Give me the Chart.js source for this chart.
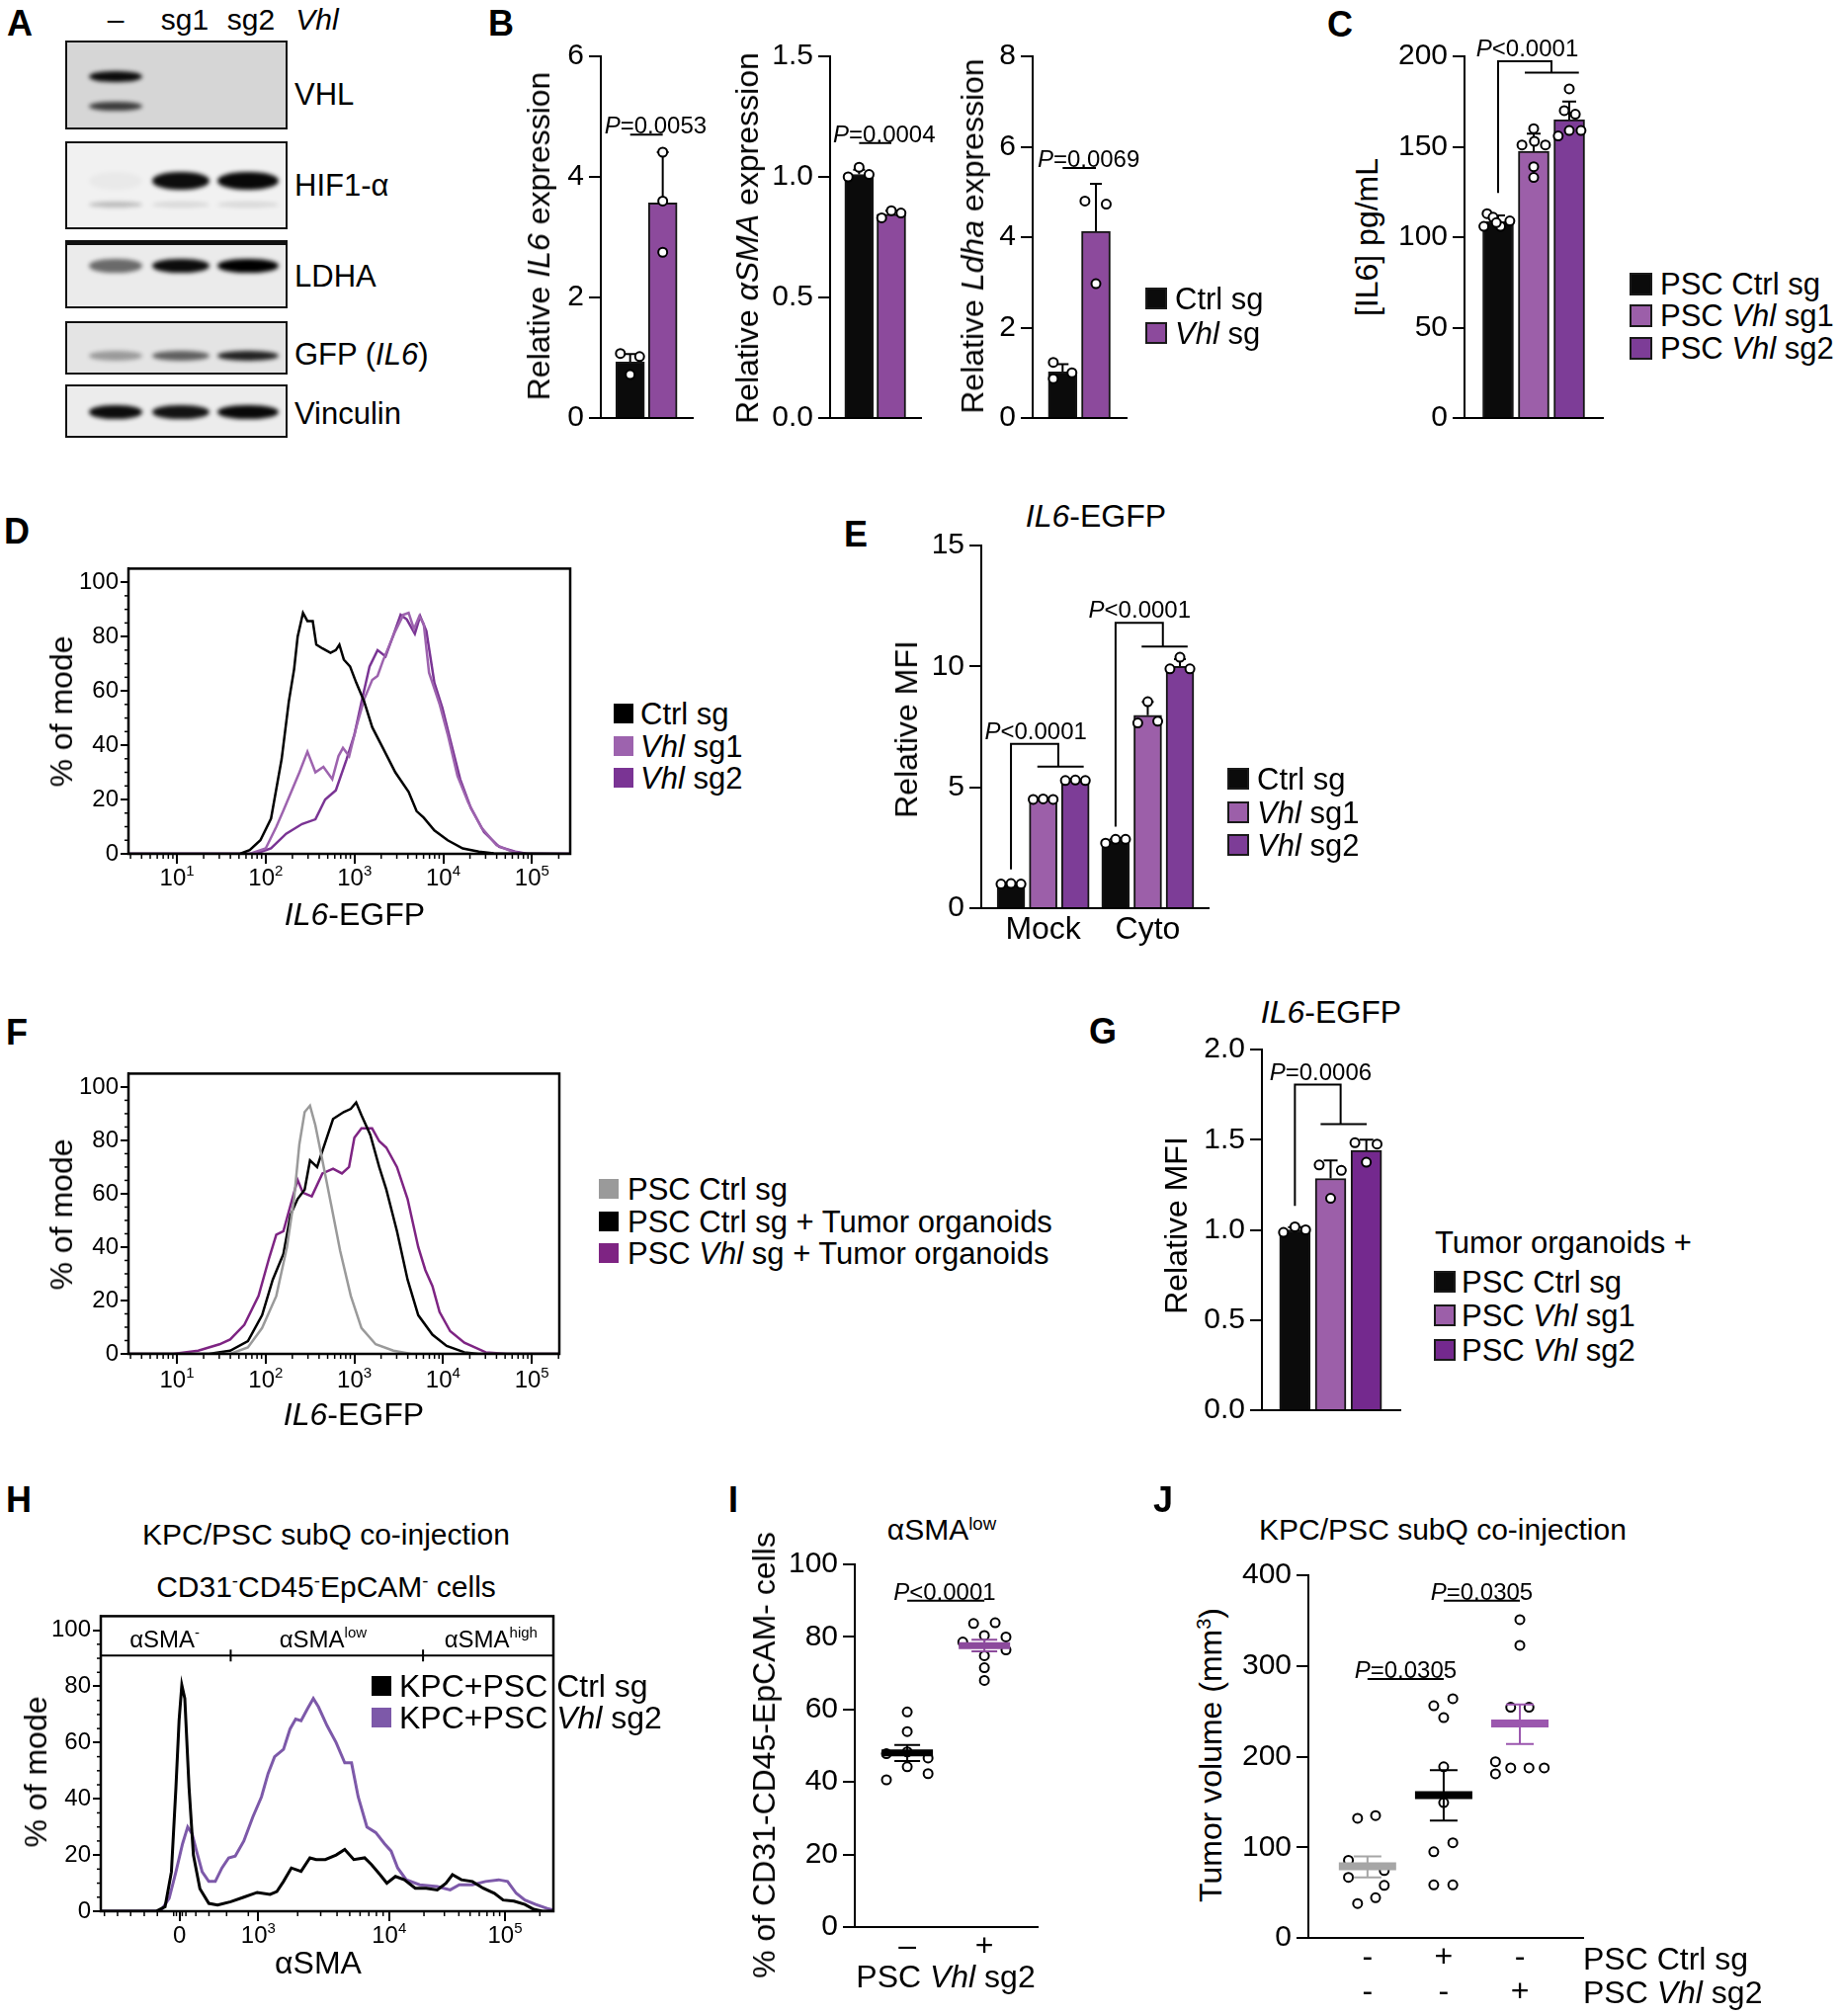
<!DOCTYPE html>
<html>
<head>
<meta charset="utf-8">
<script src="https://cdn.jsdelivr.net/npm/chart.js@4.4.1/dist/chart.umd.min.js"></script>
<style>
html,body{margin:0;padding:0;background:#fff;}
#fig{position:relative;width:1864px;height:2040px;overflow:hidden;background:#fff;color:#000;font-family:"Liberation Sans",Arial,Helvetica,sans-serif;}
#fig canvas{position:absolute;}
.t{position:absolute;white-space:nowrap;line-height:1;}
.sw{position:absolute;box-sizing:border-box;}
.blot{position:absolute;box-sizing:border-box;border:2.5px solid #111;overflow:hidden;}
.band{position:absolute;border-radius:45%/50%;filter:blur(2px);}
sup{font-size:62%;vertical-align:0.55em;line-height:0;}
</style>
</head>
<body>
<div id="fig"></div>
<script>
// ======================= DATA =======================
// Panel A – western blot, band darkness per lane (–, sg1, sg2)
const A_LANES = ['–', 'sg1', 'sg2'];
const A_TARGETS = ['VHL', 'HIF1-α', 'LDHA', 'GFP (<i>IL6</i>)', 'Vinculin'];
const A_VHL_UPPER = [0.95, 0.0, 0.0];
const A_VHL_LOWER = [0.72, 0.0, 0.0];
const A_HIF = [0.03, 0.95, 0.97];
const A_HIF_LOWER = [0.22, 0.10, 0.10];
const A_LDHA = [0.55, 0.95, 1.0];
const A_GFP = [0.32, 0.58, 0.85];
const A_VINCULIN = [0.95, 0.92, 0.97];

// Panel B – qPCR
const B_GROUPS = ['Ctrl sg', 'Vhl sg'];
const B_IL6_MEAN = [0.93, 3.57];
const B_IL6_SD = [0.13, 0.84];
const B_IL6_DOTS = [[1.07, 0.72, 1.02], [4.41, 3.60, 2.75]];
const B_ASMA_MEAN = [1.01, 0.845];
const B_ASMA_SD = [0.02, 0.015];
const B_ASMA_DOTS = [[1.00, 1.04, 1.01], [0.83, 0.86, 0.85]];
const B_LDHA_MEAN = [1.02, 4.13];
const B_LDHA_SD = [0.17, 1.05];
const B_LDHA_DOTS = [[1.23, 0.87, 1.00], [4.80, 4.73, 2.97]];
const B_PVALUES = ['=0.0053', '=0.0004', '=0.0069'];
const B_IL6_TICKS = [0, 2, 4, 6];
const B_ASMA_TICKS = [0, 0.5, 1.0, 1.5];
const B_LDHA_TICKS = [0, 2, 4, 6, 8];

// Panel C – IL6 ELISA
const C_GROUPS = ['PSC Ctrl sg', 'PSC Vhl sg1', 'PSC Vhl sg2'];
const C_MEAN = [108.5, 147.5, 165.0];
const C_SD = [3.5, 9.8, 10.0];
const C_DOTS = [[113, 111, 106, 106, 109, 108], [160, 151, 153, 151, 139, 133], [182, 170, 168, 156, 159, 159]];
const C_TICKS = [0, 50, 100, 150, 200];
const C_PVALUE = '<0.0001';

// Panel D – IL6-EGFP histograms (x = log10 intensity, y = % of mode)
const D_CTRL_X = [0.4, 1.71, 1.82, 1.94, 2.06, 2.18, 2.26, 2.32, 2.36, 2.42, 2.47, 2.53, 2.57, 2.64, 2.73, 2.79, 2.83, 2.88, 2.95, 3.02, 3.11, 3.20, 3.32, 3.46, 3.61, 3.70, 3.78, 3.90, 4.05, 4.22, 4.40, 4.57, 5.5];
const D_CTRL_Y = [0, 0, 1.4, 5, 13, 35, 56, 68, 80, 88.7, 85.7, 85.7, 77, 75.6, 74, 75, 77, 71.5, 69, 63, 56, 46.6, 39, 30, 22.8, 15.7, 13.3, 8.6, 5, 2, 0.8, 0.2, 0];
const D_SG1_X = [0.4, 1.82, 2.0, 2.12, 2.2, 2.29, 2.38, 2.47, 2.56, 2.65, 2.75, 2.82, 2.87, 2.94, 3.02, 3.11, 3.2, 3.26, 3.32, 3.37, 3.46, 3.55, 3.61, 3.67, 3.73, 3.78, 3.84, 3.96, 4.05, 4.16, 4.28, 4.43, 4.6, 4.78, 4.92, 5.5];
const D_SG1_Y = [0, 0, 2, 10, 16, 23, 30, 37.6, 30, 32, 27.5, 36, 39, 36, 46.6, 57, 64, 65.5, 71, 75, 82, 88, 88.7, 82.8, 87.5, 84.6, 66.7, 55, 44, 28.7, 19, 9.7, 3.2, 0.8, 0, 0];
const D_SG2_X = [0.4, 1.88, 2.06, 2.23, 2.41, 2.56, 2.67, 2.79, 2.91, 3.0, 3.08, 3.17, 3.26, 3.35, 3.43, 3.52, 3.59, 3.68, 3.74, 3.81, 3.9, 3.99, 4.08, 4.19, 4.31, 4.46, 4.63, 4.81, 4.95, 5.5];
const D_SG2_Y = [0, 0, 2, 7.4, 11, 12.7, 20, 23.4, 34.7, 44, 56, 69, 75, 72.7, 79.8, 88, 86.3, 81, 87.5, 82, 63, 53.7, 41.8, 27.5, 16.9, 8, 2.6, 0.8, 0, 0];
const LOG_DECADES = [1, 2, 3, 4, 5];
const PCT_TICKS = [0, 20, 40, 60, 80, 100];

// Panel E – relative MFI
const E_CONDITIONS = ['Mock', 'Cyto'];
const E_SERIES = ['Ctrl sg', 'Vhl sg1', 'Vhl sg2'];
const E_CTRL_MEAN = [1.0, 2.77];
const E_SG1_MEAN = [4.5, 7.98];
const E_SG2_MEAN = [5.28, 10.0];
const E_CTRL_SD = [0.02, 0.08];
const E_SG1_SD = [0.02, 0.55];
const E_SG2_SD = [0.02, 0.3];
const E_CTRL_DOTS = [[1.0, 1.02, 1.0], [2.69, 2.85, 2.85]];
const E_SG1_DOTS = [[4.5, 4.52, 4.5], [7.66, 8.54, 7.73]];
const E_SG2_DOTS = [[5.28, 5.3, 5.28], [9.9, 10.38, 9.9]];
const E_TICKS = [0, 5, 10, 15];
const E_PVALUES = ['<0.0001', '<0.0001'];

// Panel F – IL6-EGFP histograms with tumor organoids
const F_CTRL_X = [0.4, 1.6, 1.8, 1.96, 2.12, 2.24, 2.32, 2.38, 2.44, 2.5, 2.56, 2.64, 2.74, 2.84, 2.96, 3.08, 3.24, 3.44, 3.64, 5.4];
const F_CTRL_Y = [0, 0, 2.4, 9.7, 21.7, 40, 58, 78.5, 90.6, 93, 85.7, 72.5, 55.6, 38.6, 21.7, 9.7, 3.6, 1.2, 0, 0];
const F_CTRLTO_X = [0.4, 1.36, 1.6, 1.8, 1.96, 2.08, 2.2, 2.28, 2.36, 2.44, 2.5, 2.58, 2.64, 2.76, 2.88, 2.96, 3.02, 3.08, 3.18, 3.28, 3.36, 3.48, 3.6, 3.72, 3.88, 4.04, 4.24, 4.4, 5.4];
const F_CTRLTO_Y = [0, 0, 1.2, 4.8, 14.5, 27.8, 37.4, 52, 58, 61.6, 72.5, 70, 76, 88, 90.6, 91.8, 94.2, 89.4, 82, 70, 61.6, 46, 27.8, 14.5, 7.2, 3, 0.6, 0, 0];
const F_VHLTO_X = [0.4, 0.96, 1.24, 1.48, 1.6, 1.76, 1.92, 2.04, 2.12, 2.2, 2.28, 2.36, 2.42, 2.52, 2.64, 2.76, 2.86, 2.94, 3.0, 3.08, 3.2, 3.28, 3.36, 3.48, 3.6, 3.72, 3.8, 3.88, 3.96, 4.08, 4.24, 4.48, 4.72, 5.4];
const F_VHLTO_Y = [0, 0, 1.2, 3.6, 5.4, 10.9, 21.7, 36, 44.7, 46, 55.6, 65.2, 60.4, 59, 67.6, 69.4, 67.6, 70, 81, 84.5, 84.5, 79.7, 77.3, 70, 58, 40, 31.4, 25.4, 15.7, 8.5, 4.2, 0.6, 0, 0];

// Panel G – relative MFI with tumor organoids
const G_GROUPS = ['PSC Ctrl sg', 'PSC Vhl sg1', 'PSC Vhl sg2'];
const G_MEAN = [1.0, 1.285, 1.44];
const G_SD = [0.015, 0.1, 0.06];
const G_DOTS = [[0.986, 1.017, 1.0], [1.36, 1.175, 1.33], [1.483, 1.375, 1.476]];
const G_TICKS = [0, 0.5, 1.0, 1.5, 2.0];
const G_PVALUE = '=0.0006';

// Panel H – αSMA histograms (x = biexponential display channel 0–1000)
const H_CTRL_X = [1, 122, 142, 156, 166, 173, 179, 185.6, 195, 204.6, 219, 238.7, 258, 287, 316, 345.6, 374, 389, 403.7, 421, 442.5, 462, 476, 496, 520, 539, 559, 583, 598, 617, 632, 651, 670.6, 694.8, 719, 743.4, 762.6, 777, 796.7, 821, 845, 869.6, 889, 913, 937, 956.5, 976, 1000];
const H_CTRL_Y = [0, 0, 1.6, 14, 44, 68, 80.5, 75.7, 44, 20, 8, 2.8, 2.2, 3.4, 5, 6.7, 6, 7, 10.6, 15.4, 14.2, 19, 18.4, 18.4, 20, 22, 18.4, 19, 16.6, 13, 10, 12.4, 11.2, 8.2, 8.2, 7.6, 10, 13, 11.2, 10.6, 8.2, 6.4, 4, 3.6, 2.4, 0.7, 0, 0];
const H_VHL_X = [1, 132, 151, 166, 180.6, 192, 201.9, 211.5, 224, 238.6, 253, 267.7, 282.6, 297, 316, 335.8, 355, 369.6, 384, 403.7, 418, 430.6, 442.5, 456.5, 469.6, 481, 500, 520, 539, 554, 568.7, 588, 607.6, 627, 641.5, 656, 675, 704.6, 743.4, 772, 792, 821, 850, 879, 898.7, 917.8, 937, 961, 986, 1000];
const H_VHL_Y = [0, 0, 4.6, 14, 24, 30, 27.5, 21.4, 14, 10.6, 10.6, 15.4, 19, 19.6, 25, 33.5, 40.7, 49, 55, 57.6, 64.8, 68.4, 67.8, 72, 75.7, 72.7, 66, 60, 52.8, 52.8, 40.7, 30, 28, 24, 21.4, 15.4, 11.2, 9.4, 8.8, 7.6, 9.4, 9.4, 10.6, 11.2, 10.6, 6.4, 4, 2.4, 1, 0.4];
const H_XTICK_CH = [174, 348, 637, 893];
const H_XTICK_LABELS = [['0', ''], ['10', '3'], ['10', '4'], ['10', '5']];
const H_GATES = ['-', 'low', 'high'];
const H_GATE_BOUNDS = [287, 712];

// Panel I – % αSMA-low
const I_GROUPS = ['–', '+'];
const I_NEG = [59.3, 53.9, 47.8, 48.3, 46.6, 44.2, 42.3, 40.6];
const I_POS = [83.7, 83.9, 80.4, 80.0, 78.6, 76.4, 74.8, 71.5, 68.0];
const I_MEAN = [48.0, 77.6];
const I_SEM_LO = [45.8, 76.0];
const I_SEM_HI = [50.2, 79.2];
const I_TICKS = [0, 20, 40, 60, 80, 100];
const I_PVALUE = '<0.0001';

// Panel J – tumor volume
const J_CTRL_ROW = ['-', '+', '-'];
const J_VHL_ROW = ['-', '-', '+'];
const J_NONE = [132, 135, 85.6, 66.8, 74.3, 58, 44.3, 37.9];
const J_CTRL = [256, 263.8, 243, 188.7, 149.3, 95, 105, 58.5, 58.5];
const J_VHL = [351, 322.7, 254.4, 254.4, 194.4, 181, 187.6, 187.6, 187.6];
const J_MEAN = [79, 157.6, 236.4];
const J_SEM_LO = [66.8, 129.5, 214];
const J_SEM_HI = [90, 185, 257.4];
const J_TICKS = [0, 100, 200, 300, 400];
const J_PVALUES = ['=0.0305', '=0.0305'];

// ======================= STYLE / LAYOUT =======================
const FONT = '"Liberation Sans", Arial, Helvetica, sans-serif';
const BLACK = '#0b0b0b';
const PURPLE = '#8c4a9c';
const SG1 = '#9c5fa9';
const SG2 = '#7d3d97';
const SG2G = '#74298e';
const D_SG1C = '#9d63ae', D_SG2C = '#7a3494';
const F_GRAY = '#9a9a9a', F_PURPLE = '#7e2483';
const H_PURPLE = '#7d59a9';
const J_GRAY = '#a6a6a6', J_PURPLE = '#9b57ae';

// jitter of individual dots inside a bar (x units) – layout only
const B_IL6_JIT = [[-0.3, 0, 0.29], [0, 0, 0]];
const B_ASMA_JIT = [[-0.34, 0, 0.31], [-0.3, 0, 0.3]];
const B_LDHA_JIT = [[-0.28, -0.28, 0.28], [-0.33, 0.31, 0]];
const C_JIT = [[-0.31, -0.14, -0.4, 0.07, 0.33, -0.05], [0, -0.33, 0.02, 0.33, 0, 0], [0, -0.14, 0.17, -0.31, 0, 0.33]];
const E_JIT3 = [-0.31, 0, 0.31];
const E_GROUP_X = [0, 3.25];
const G_JIT = [-0.32, 0, 0.3];
const I_NEG_JIT = [0, 0, -0.27, 0, 0.27, 0, 0.27, -0.27];
const I_POS_JIT = [-0.14, 0.14, 0, 0.28, -0.28, 0.28, 0, 0, 0];
const J_NONE_JIT = [-0.13, 0.106, -0.25, -0.25, 0.22, 0.22, 0.106, -0.13];
const J_CTRL_JIT = [-0.13, 0.12, 0, 0, 0, -0.13, 0.12, -0.13, 0.12];
const J_VHL_JIT = [0, 0, -0.12, 0.12, -0.32, -0.32, -0.12, 0.12, 0.32];

Chart.defaults.font.family = FONT;
Chart.defaults.color = '#000';

const fig = document.getElementById('fig');

function addText(html, x, y, o) {
  o = o || {};
  const d = document.createElement('div');
  d.className = 't';
  d.innerHTML = html;
  d.style.left = x + 'px';
  d.style.top = y + 'px';
  d.style.fontSize = (o.size || 31) + 'px';
  if (o.bold) d.style.fontWeight = 'bold';
  let tr = 'translate(-50%,-50%)';
  if (o.rot) tr = 'translate(-50%,-50%) rotate(-90deg)';
  else if (o.align === 'left') tr = 'translateY(-50%)';
  d.style.transform = tr;
  fig.appendChild(d);
  return d;
}
function addSwatch(x, yc, size, color, border) {
  const d = document.createElement('div');
  d.className = 'sw';
  d.style.left = x + 'px';
  d.style.top = (yc - size / 2) + 'px';
  d.style.width = size + 'px';
  d.style.height = size + 'px';
  d.style.background = color;
  if (border) d.style.border = '2px solid #1a1a1a';
  fig.appendChild(d);
}
function legend(items, x, ys, size, tx, fs, border) {
  items.forEach((it, i) => {
    addSwatch(x, ys[i], size, it.color, border);
    addText(it.label, tx, ys[i], {size: fs, align: 'left'});
  });
}
function mkCanvas(area, m) {
  const c = document.createElement('canvas');
  const w = Math.round(area.r - area.l + m.l + m.r);
  const h = Math.round(area.b - area.t + m.t + m.b);
  c.width = w; c.height = h;
  c.style.left = (area.l - m.l) + 'px';
  c.style.top = (area.t - m.t) + 'px';
  c.style.width = w + 'px';
  c.style.height = h + 'px';
  fig.appendChild(c);
  return c;
}
function drawRich(ctx, segs, cx, cy, size, align) {
  ctx.save();
  ctx.fillStyle = '#000';
  ctx.textBaseline = 'alphabetic';
  ctx.textAlign = 'left';
  const f = s => (s.it ? 'italic ' : '') + (s.sup ? Math.round(size * 0.62) : size) + 'px ' + FONT;
  let W = 0;
  const ws = segs.map(s => { ctx.font = f(s); const w = ctx.measureText(s.t).width; W += w; return w; });
  let x = align === 'left' ? cx : cx - W / 2;
  const base = cy + size * 0.36;
  segs.forEach((s, i) => { ctx.font = f(s); ctx.fillText(s.t, x, s.sup ? base - size * 0.42 : base); x += ws[i]; });
  ctx.restore();
}
function pval(ctx, rest, cx, baseline) {
  drawRich(ctx, [{t: 'P', it: true}, {t: rest}], cx, baseline - 24 * 0.36, 24);
}
function hline(ctx, x1, x2, y) {
  ctx.save(); ctx.strokeStyle = '#000'; ctx.lineWidth = 2;
  ctx.beginPath(); ctx.moveTo(x1, y); ctx.lineTo(x2, y); ctx.stroke(); ctx.restore();
}
function comb(ctx, X, Y, c) {
  ctx.save(); ctx.strokeStyle = '#000'; ctx.lineWidth = 2;
  ctx.beginPath();
  ctx.moveTo(X(c.xL), Y(c.yL)); ctx.lineTo(X(c.xL), Y(c.yTop)); ctx.lineTo(X(c.xM), Y(c.yTop)); ctx.lineTo(X(c.xM), Y(c.yM));
  ctx.moveTo(X(c.xA), Y(c.yM)); ctx.lineTo(X(c.xB), Y(c.yM));
  ctx.stroke(); ctx.restore();
}

let pid = 0;
function prismChart(s) {
  const cv = mkCanvas(s.area, s.margin);
  const ds = [];
  if (s.bars) {
    ds.push({
      type: 'bar',
      data: s.bars.map(b => ({x: b.x, y: b.mean})),
      backgroundColor: s.bars.map(b => b.color),
      borderColor: '#151515',
      borderWidth: 2,
      barThickness: s.barWidth,
      order: 3
    });
  }
  (s.dots || []).forEach(g => ds.push({
    type: 'scatter',
    data: g.values.map((v, i) => ({x: g.x + g.jitter[i], y: v})),
    pointRadius: 4.5, pointBorderWidth: 2,
    pointBackgroundColor: '#fff', pointBorderColor: '#000',
    order: 1
  }));
  const plugin = {
    id: 'prism' + (pid++),
    beforeDatasetsDraw(chart) {
      const ctx = chart.ctx, X = v => chart.scales.x.getPixelForValue(v), Y = v => chart.scales.y.getPixelForValue(v);
      ctx.save(); ctx.strokeStyle = '#000'; ctx.lineWidth = 2;
      (s.bars || []).forEach(b => {
        if (!b.sd) return;
        const x = X(b.x), y1 = Y(b.mean), y2 = Y(b.mean + b.sd), cw = s.capW || 12;
        ctx.beginPath(); ctx.moveTo(x, y1); ctx.lineTo(x, y2);
        ctx.moveTo(x - cw / 2, y2); ctx.lineTo(x + cw / 2, y2); ctx.stroke();
      });
      ctx.restore();
    },
    afterDatasetsDraw(chart) {
      const ctx = chart.ctx, X = v => chart.scales.x.getPixelForValue(v), Y = v => chart.scales.y.getPixelForValue(v);
      (s.meanSem || []).forEach(m => {
        ctx.save(); ctx.strokeStyle = m.color; ctx.lineWidth = 2;
        const x = X(m.x), cw = s.semW, mw = s.meanW;
        ctx.beginPath();
        ctx.moveTo(x, Y(m.lo)); ctx.lineTo(x, Y(m.hi));
        ctx.moveTo(x - cw / 2, Y(m.lo)); ctx.lineTo(x + cw / 2, Y(m.lo));
        ctx.moveTo(x - cw / 2, Y(m.hi)); ctx.lineTo(x + cw / 2, Y(m.hi));
        ctx.stroke();
        ctx.lineWidth = s.meanThick; ctx.beginPath();
        ctx.moveTo(x - mw / 2, Y(m.mean)); ctx.lineTo(x + mw / 2, Y(m.mean)); ctx.stroke();
        ctx.restore();
      });
      if (s.ann) s.ann(ctx, X, Y);
    }
  };
  new Chart(cv, {
    type: 'bar',
    data: {datasets: ds},
    options: {
      responsive: false, animation: false, devicePixelRatio: 1, events: [],
      layout: {padding: {top: s.margin.t, right: s.margin.r, left: 0, bottom: 0}},
      plugins: {legend: {display: false}, tooltip: {enabled: false}},
      scales: {
        x: {
          type: 'linear', min: s.xmin, max: s.xmax, offset: false,
          afterBuildTicks: sc => { sc.ticks = (s.xlabels || []).map(l => ({value: l.x})); },
          afterFit: sc => { sc.height = s.margin.b; },
          grid: {display: false, drawTicks: false, tickLength: 0, offset: false},
          border: {display: true, color: '#000', width: 2},
          ticks: {display: !!s.xlabels, autoSkip: false, maxRotation: 0, minRotation: 0, padding: s.xpad || 4,
                  font: {size: s.xfont || 31, lineHeight: s.xlh || 1.2}, color: '#000',
                  callback: (v, i) => s.xlabels ? s.xlabels[i].label : ''}
        },
        y: {
          type: 'linear', min: s.ymin, max: s.ymax,
          afterBuildTicks: sc => { sc.ticks = s.yticks.map(v => ({value: v})); },
          afterFit: sc => { sc.width = s.margin.l; },
          grid: {display: true, drawOnChartArea: false, drawTicks: true, tickLength: 12, color: '#000', lineWidth: 2},
          border: {display: true, color: '#000', width: 2},
          ticks: {font: {size: 30}, padding: 5, color: '#000', callback: v => s.yfmt ? s.yfmt(v) : String(v)}
        }
      }
    },
    plugins: [plugin]
  });
}

function flowChart(s) {
  const cv = mkCanvas(s.area, s.margin);
  const ds = s.series.map(se => ({
    type: 'scatter', showLine: true,
    data: se.x.map((v, i) => ({x: v, y: se.y[i]})),
    borderColor: se.color, borderWidth: se.w || 2.5, pointRadius: 0, tension: 0, fill: false
  }));
  const plugin = {
    id: 'flow' + (pid++),
    afterDraw(chart) {
      const ctx = chart.ctx, a = chart.chartArea, xs = chart.scales.x, ys = chart.scales.y;
      ctx.save();
      ctx.strokeStyle = '#000'; ctx.lineWidth = 2.5;
      ctx.strokeRect(a.left, a.top, a.right - a.left, a.bottom - a.top);
      ctx.lineWidth = 1.5;
      s.yMinor.forEach(v => { const y = ys.getPixelForValue(v); ctx.beginPath(); ctx.moveTo(a.left - 4, y); ctx.lineTo(a.left, y); ctx.stroke(); });
      s.xMinor.forEach(v => { if (v <= xs.min || v >= xs.max) return; const x = xs.getPixelForValue(v); ctx.beginPath(); ctx.moveTo(x, a.bottom); ctx.lineTo(x, a.bottom + 5); ctx.stroke(); });
      s.xLabels.forEach(l => drawRich(ctx, l.segs, xs.getPixelForValue(l.v), a.bottom + s.xLabelDy, 24));
      if (s.extra) s.extra(ctx, chart);
      ctx.restore();
    }
  };
  new Chart(cv, {
    type: 'scatter',
    data: {datasets: ds},
    options: {
      responsive: false, animation: false, devicePixelRatio: 1, events: [],
      layout: {padding: {top: s.margin.t, right: s.margin.r, left: 0, bottom: 0}},
      plugins: {legend: {display: false}, tooltip: {enabled: false}},
      scales: {
        x: {
          type: 'linear', min: s.xmin, max: s.xmax,
          afterBuildTicks: sc => { sc.ticks = s.xMajor.map(v => ({value: v})); },
          afterFit: sc => { sc.height = s.margin.b; },
          grid: {display: true, drawOnChartArea: false, drawTicks: true, tickLength: 10, color: '#000', lineWidth: 2},
          border: {display: true, color: '#000', width: 2},
          ticks: {display: false}
        },
        y: {
          type: 'linear', min: 0, max: 105,
          afterBuildTicks: sc => { sc.ticks = PCT_TICKS.map(v => ({value: v})); },
          afterFit: sc => { sc.width = s.margin.l; },
          grid: {display: true, drawOnChartArea: false, drawTicks: true, tickLength: 8, color: '#000', lineWidth: 2},
          border: {display: true, color: '#000', width: 2},
          ticks: {font: {size: 24}, padding: 2, color: '#000'}
        }
      }
    },
    plugins: [plugin]
  });
}

// ---------- helpers for ticks ----------
const SUP = {1: '1', 2: '2', 3: '3', 4: '4', 5: '5'};
function logMinor(maxDec) {
  const out = [];
  for (let n = 0; n <= maxDec; n++) for (let k = 2; k <= 9; k++) out.push(n + Math.log10(k));
  return out;
}
const PCT_MINOR = [];
for (let v = 5; v < 105; v += 5) if (v % 20) PCT_MINOR.push(v);
const LOG_LABELS = LOG_DECADES.map(d => ({v: d, segs: [{t: '10'}, {t: SUP[d], sup: true}]}));

// ======================= PANEL A =======================
addText('A', 20, 24, {size: 36, bold: true});
const A_LANE_X = [117, 183, 251];
const A_LANE_W = [54, 58, 62];
A_LANES.forEach((l, i) => addText(l, [117, 187, 254][i], 20, {size: 30}));
addText('<i>Vhl</i>', 321, 20, {size: 30});
function blot(top, bottom, bg, topBorder) {
  const d = document.createElement('div');
  d.className = 'blot';
  d.style.left = '66px'; d.style.top = top + 'px';
  d.style.width = '225px'; d.style.height = (bottom - top) + 'px';
  d.style.background = bg;
  if (topBorder) d.style.borderTop = topBorder;
  fig.appendChild(d);
  return {d, top};
}
function band(b, lane, cy, h, a) {
  if (a <= 0.01) return;
  const e = document.createElement('div');
  e.className = 'band';
  const w = A_LANE_W[lane];
  e.style.left = (A_LANE_X[lane] - w / 2 - 68.5) + 'px';
  e.style.top = (cy - h / 2 - b.top - 2.5) + 'px';
  e.style.width = w + 'px'; e.style.height = h + 'px';
  e.style.background = 'rgba(0,0,0,' + a + ')';
  b.d.appendChild(e);
}
const bVHL = blot(41, 131, '#d6d6d6');
A_VHL_UPPER.forEach((a, i) => band(bVHL, i, 78, 11, a));
A_VHL_LOWER.forEach((a, i) => band(bVHL, i, 108, 9, a));
const bHIF = blot(143, 232, '#f1f1f1');
A_HIF.forEach((a, i) => band(bHIF, i, 183, 18, a));
A_HIF_LOWER.forEach((a, i) => band(bHIF, i, 207, 6, a));
const bLDHA = blot(243, 312, '#ebebeb', '5px solid #111');
A_LDHA.forEach((a, i) => band(bLDHA, i, 266, 14, a));
const bGFP = blot(325, 379, '#e4e4e4');
A_GFP.forEach((a, i) => band(bGFP, i, 360, 10, a));
const bVIN = blot(389, 443, '#ececec');
A_VINCULIN.forEach((a, i) => band(bVIN, i, 417, 14, a));
[95, 187, 279, 358, 418].forEach((y, i) => addText(A_TARGETS[i], 298, y, {size: 31, align: 'left'}));

// ======================= PANEL B =======================
addText('B', 507, 24, {size: 36, bold: true});
const B_COLORS = [BLACK, PURPLE];
const B_PLINE = [4.7, 1.14, 5.53];
function bChart(area, mean, sd, dots, jit, ticks, fmt, i) {
  prismChart({
    area, margin: {l: 75, t: 40, r: 40, b: 24},
    xmin: -0.9, xmax: 1.92, ymin: 0, ymax: ticks[ticks.length - 1], yticks: ticks, yfmt: fmt,
    barWidth: 29, capW: 12,
    bars: mean.map((m, k) => ({x: k, mean: m, sd: sd[k], color: B_COLORS[k]})),
    dots: dots.map((v, k) => ({x: k, values: v, jitter: jit[k]})),
    ann: (ctx, X, Y) => { hline(ctx, X(0), X(1), Y(B_PLINE[i])); pval(ctx, B_PVALUES[i], X(0.78), Y(B_PLINE[i]) - 1); }
  });
}
bChart({l: 608, t: 57, r: 701, b: 423}, B_IL6_MEAN, B_IL6_SD, B_IL6_DOTS, B_IL6_JIT, B_IL6_TICKS, v => String(v), 0);
bChart({l: 840, t: 57, r: 932, b: 423}, B_ASMA_MEAN, B_ASMA_SD, B_ASMA_DOTS, B_ASMA_JIT, B_ASMA_TICKS, v => v.toFixed(1), 1);
bChart({l: 1045, t: 57, r: 1140, b: 423}, B_LDHA_MEAN, B_LDHA_SD, B_LDHA_DOTS, B_LDHA_JIT, B_LDHA_TICKS, v => String(v), 2);
addText('Relative <i>IL6</i> expression', 545, 239, {size: 32, rot: true});
addText('Relative <i>αSMA</i> expression', 756, 241, {size: 32, rot: true});
addText('Relative <i>Ldha</i> expression', 984, 239, {size: 32, rot: true});
legend([{color: BLACK, label: 'Ctrl sg'}, {color: PURPLE, label: '<i>Vhl</i> sg'}], 1159, [302, 337], 22, 1189, 31, true);

// ======================= PANEL C =======================
addText('C', 1356, 25, {size: 36, bold: true});
const C_COLORS = [BLACK, SG1, SG2];
prismChart({
  area: {l: 1482, t: 57, r: 1622, b: 423}, margin: {l: 80, t: 50, r: 20, b: 24},
  xmin: -0.944, xmax: 2.944, ymin: 0, ymax: 200, yticks: C_TICKS,
  barWidth: 31, capW: 14,
  bars: C_MEAN.map((m, k) => ({x: k, mean: m, sd: C_SD[k], color: C_COLORS[k]})),
  dots: C_DOTS.map((v, k) => ({x: k, values: v, jitter: C_JIT[k]})),
  ann: (ctx, X, Y) => {
    comb(ctx, X, Y, {xL: 0, yL: 124.4, yTop: 197.3, xM: 1.5, yM: 191, xA: 0.75, xB: 2.27});
    pval(ctx, C_PVALUE, X(0.82), Y(197.3) - 5);
  }
});
addText('[IL6] pg/mL', 1383, 240, {size: 32, rot: true});
legend([{color: BLACK, label: 'PSC Ctrl sg'}, {color: SG1, label: 'PSC <i>Vhl</i> sg1'}, {color: SG2, label: 'PSC <i>Vhl</i> sg2'}], 1649, [287, 319, 352], 23, 1680, 31, true);

// ======================= PANEL D =======================
addText('D', 17, 538, {size: 36, bold: true});
flowChart({
  area: {l: 130, t: 569, r: 577, b: 864}, margin: {l: 75, t: 10, r: 12, b: 50},
  xmin: 0.454, xmax: 5.43,
  series: [
    {x: D_CTRL_X, y: D_CTRL_Y, color: '#000'},
    {x: D_SG1_X, y: D_SG1_Y, color: D_SG1C},
    {x: D_SG2_X, y: D_SG2_Y, color: D_SG2C}
  ],
  xMajor: LOG_DECADES, xMinor: logMinor(5), yMinor: PCT_MINOR,
  xLabels: LOG_LABELS, xLabelDy: 23
});
addText('% of mode', 62, 720, {size: 32, rot: true});
addText('<i>IL6</i>-EGFP', 359, 925, {size: 32});
legend([{color: '#000', label: 'Ctrl sg'}, {color: D_SG1C, label: '<i>Vhl</i> sg1'}, {color: D_SG2C, label: '<i>Vhl</i> sg2'}], 621, [722, 755, 787], 20, 648, 31, false);

// ======================= PANEL E =======================
addText('E', 866, 541, {size: 36, bold: true});
addText('<i>IL6</i>-EGFP', 1109, 522, {size: 32});
const E_COLORS = [BLACK, SG1, SG2];
const E_MEANS = [E_CTRL_MEAN, E_SG1_MEAN, E_SG2_MEAN];
const E_SDS = [E_CTRL_SD, E_SG1_SD, E_SG2_SD];
const E_DOTSETS = [E_CTRL_DOTS, E_SG1_DOTS, E_SG2_DOTS];
const eBars = [], eDots = [];
E_CONDITIONS.forEach((c, i) => E_SERIES.forEach((s, k) => {
  eBars.push({x: E_GROUP_X[i] + k, mean: E_MEANS[k][i], sd: E_SDS[k][i], color: E_COLORS[k]});
  eDots.push({x: E_GROUP_X[i] + k, values: E_DOTSETS[k][i], jitter: E_JIT3});
}));
prismChart({
  area: {l: 993, t: 552, r: 1223, b: 919}, margin: {l: 75, t: 30, r: 20, b: 50},
  xmin: -0.923, xmax: 6.14, ymin: 0, ymax: 15, yticks: E_TICKS,
  barWidth: 28, capW: 12,
  bars: eBars, dots: eDots,
  xlabels: [{x: 1, label: E_CONDITIONS[0]}, {x: 4.25, label: E_CONDITIONS[1]}], xfont: 32, xpad: 3,
  ann: (ctx, X, Y) => {
    comb(ctx, X, Y, {xL: 0, yL: 1.6, yTop: 6.8, xM: 1.47, yM: 5.85, xA: 0.82, xB: 2.26});
    pval(ctx, E_PVALUES[0], X(0.77), Y(6.8) - 5);
    comb(ctx, X, Y, {xL: 3.25, yL: 3.37, yTop: 11.8, xM: 4.72, yM: 10.82, xA: 4.06, xB: 5.49});
    pval(ctx, E_PVALUES[1], X(4.0), Y(11.8) - 5);
  }
});
addText('Relative MFI', 917, 738, {size: 32, rot: true});
legend([{color: BLACK, label: 'Ctrl sg'}, {color: SG1, label: '<i>Vhl</i> sg1'}, {color: SG2, label: '<i>Vhl</i> sg2'}], 1242, [788, 822, 855], 22, 1272, 31, true);

// ======================= PANEL F =======================
addText('F', 17, 1045, {size: 36, bold: true});
flowChart({
  area: {l: 130, t: 1080, r: 566, b: 1370}, margin: {l: 75, t: 10, r: 12, b: 50},
  xmin: 0.454, xmax: 5.31,
  series: [
    {x: F_CTRL_X, y: F_CTRL_Y, color: F_GRAY},
    {x: F_CTRLTO_X, y: F_CTRLTO_Y, color: '#000'},
    {x: F_VHLTO_X, y: F_VHLTO_Y, color: F_PURPLE}
  ],
  xMajor: LOG_DECADES, xMinor: logMinor(5), yMinor: PCT_MINOR,
  xLabels: LOG_LABELS, xLabelDy: 25
});
addText('% of mode', 62, 1229, {size: 32, rot: true});
addText('<i>IL6</i>-EGFP', 358, 1431, {size: 32});
legend([{color: F_GRAY, label: 'PSC Ctrl sg'}, {color: '#000', label: 'PSC Ctrl sg + Tumor organoids'}, {color: F_PURPLE, label: 'PSC <i>Vhl</i> sg + Tumor organoids'}], 606, [1203, 1236, 1268], 20, 635, 31, false);

// ======================= PANEL G =======================
addText('G', 1116, 1044, {size: 36, bold: true});
addText('<i>IL6</i>-EGFP', 1347, 1024, {size: 32});
const G_COLORS = [BLACK, SG1, SG2G];
prismChart({
  area: {l: 1277, t: 1062, r: 1417, b: 1427}, margin: {l: 80, t: 30, r: 20, b: 24},
  xmin: -0.923, xmax: 2.95, ymin: 0, ymax: 2, yticks: G_TICKS, yfmt: v => v.toFixed(1),
  barWidth: 31, capW: 14,
  bars: G_MEAN.map((m, k) => ({x: k, mean: m, sd: G_SD[k], color: G_COLORS[k]})),
  dots: G_DOTS.map((v, k) => ({x: k, values: v, jitter: G_JIT})),
  ann: (ctx, X, Y) => {
    comb(ctx, X, Y, {xL: 0, yL: 1.133, yTop: 1.805, xM: 1.28, yM: 1.586, xA: 0.72, xB: 2.01});
    pval(ctx, G_PVALUE, X(0.72), Y(1.805) - 5);
  }
});
addText('Relative MFI', 1190, 1240, {size: 32, rot: true});
addText('Tumor organoids +', 1452, 1257, {size: 31, align: 'left'});
legend([{color: BLACK, label: 'PSC Ctrl sg'}, {color: SG1, label: 'PSC <i>Vhl</i> sg1'}, {color: SG2G, label: 'PSC <i>Vhl</i> sg2'}], 1451, [1297, 1331, 1366], 22, 1479, 31, true);

// ======================= PANEL H =======================
addText('H', 19, 1518, {size: 36, bold: true});
addText('KPC/PSC subQ co-injection', 330, 1553, {size: 30});
addText('CD31<sup>-</sup>CD45<sup>-</sup>EpCAM<sup>-</sup> cells', 330, 1606, {size: 30});
const H_MINOR = [8, 37, 66, 96, 125, 161, 167, 180, 188, 210, 239, 278, 326];
for (let j = 1; j < H_XTICK_CH.length; j++) {
  for (let k = 2; k <= 9; k++) {
    if (j === 1) continue;
    H_MINOR.push(H_XTICK_CH[j - 1] + Math.log10(k) * (H_XTICK_CH[j] - H_XTICK_CH[j - 1]));
  }
}
for (let k = 2; k <= 3; k++) H_MINOR.push(H_XTICK_CH[3] + Math.log10(k) * (H_XTICK_CH[3] - H_XTICK_CH[2]));
flowChart({
  area: {l: 102, t: 1629, r: 560, b: 1934}, margin: {l: 75, t: 10, r: 12, b: 50},
  xmin: 0, xmax: 1000,
  series: [
    {x: H_CTRL_X, y: H_CTRL_Y, color: '#000', w: 3},
    {x: H_VHL_X, y: H_VHL_Y, color: H_PURPLE, w: 3}
  ],
  xMajor: H_XTICK_CH, xMinor: H_MINOR, yMinor: PCT_MINOR,
  xLabels: H_XTICK_CH.map((c, i) => ({v: c, segs: [{t: H_XTICK_LABELS[i][0]}, {t: H_XTICK_LABELS[i][1], sup: true}]})),
  xLabelDy: 23,
  extra: (ctx, chart) => {
    const xs = chart.scales.x, ys = chart.scales.y, a = chart.chartArea;
    const gy = ys.getPixelForValue(91);
    ctx.strokeStyle = '#000'; ctx.lineWidth = 2;
    ctx.beginPath(); ctx.moveTo(a.left, gy); ctx.lineTo(a.right, gy);
    H_GATE_BOUNDS.forEach(c => { const x = xs.getPixelForValue(c); ctx.moveTo(x, gy - 6); ctx.lineTo(x, gy + 6); });
    ctx.stroke();
    const gx = [141, 491, 862];
    H_GATES.forEach((g, i) => drawRich(ctx, [{t: 'αSMA'}, {t: g, sup: true}], xs.getPixelForValue(gx[i]), ys.getPixelForValue(97), 24));
  }
});
addText('αSMA', 322, 1986, {size: 32});
addText('% of mode', 36, 1793, {size: 32, rot: true});
legend([{color: '#000', label: 'KPC+PSC Ctrl sg'}, {color: H_PURPLE, label: 'KPC+PSC <i>Vhl</i> sg2'}], 376, [1706, 1738], 20, 404, 32, false);

// ======================= PANEL I =======================
addText('I', 742, 1518, {size: 36, bold: true});
addText('αSMA<sup>low</sup>', 953, 1548, {size: 30});
prismChart({
  area: {l: 865, t: 1583, r: 1050, b: 1950}, margin: {l: 90, t: 40, r: 30, b: 45},
  xmin: -0.68, xmax: 1.69, ymin: 0, ymax: 100, yticks: I_TICKS,
  dots: [{x: 0, values: I_NEG, jitter: I_NEG_JIT}, {x: 1, values: I_POS, jitter: I_POS_JIT}],
  meanSem: [
    {x: 0, mean: I_MEAN[0], lo: I_SEM_LO[0], hi: I_SEM_HI[0], color: '#000'},
    {x: 1, mean: I_MEAN[1], lo: I_SEM_LO[1], hi: I_SEM_HI[1], color: PURPLE}
  ],
  meanW: 52, semW: 26, meanThick: 7,
  xlabels: [{x: 0, label: I_GROUPS[0]}, {x: 1, label: I_GROUPS[1]}], xfont: 32, xpad: 1,
  ann: (ctx, X, Y) => { hline(ctx, X(0), X(1), Y(90)); pval(ctx, I_PVALUE, X(0.485), Y(90) - 1); }
});
addText('% of CD31-CD45-EpCAM- cells', 773, 1776, {size: 32, rot: true});
addText('PSC <i>Vhl</i> sg2', 957, 2000, {size: 32});

// ======================= PANEL J =======================
addText('J', 1177, 1518, {size: 36, bold: true});
addText('KPC/PSC subQ co-injection', 1460, 1548, {size: 30});
prismChart({
  area: {l: 1324, t: 1594, r: 1602, b: 1961}, margin: {l: 80, t: 30, r: 20, b: 76},
  xmin: -0.776, xmax: 2.83, ymin: 0, ymax: 400, yticks: J_TICKS,
  dots: [
    {x: 0, values: J_NONE, jitter: J_NONE_JIT},
    {x: 1, values: J_CTRL, jitter: J_CTRL_JIT},
    {x: 2, values: J_VHL, jitter: J_VHL_JIT}
  ],
  meanSem: [
    {x: 0, mean: J_MEAN[0], lo: J_SEM_LO[0], hi: J_SEM_HI[0], color: J_GRAY},
    {x: 1, mean: J_MEAN[1], lo: J_SEM_LO[1], hi: J_SEM_HI[1], color: '#000'},
    {x: 2, mean: J_MEAN[2], lo: J_SEM_LO[2], hi: J_SEM_HI[2], color: J_PURPLE}
  ],
  meanW: 58, semW: 28, meanThick: 8,
  xlabels: J_CTRL_ROW.map((c, i) => ({x: i, label: [c, J_VHL_ROW[i]]})), xfont: 32, xlh: 1.08, xpad: 3,
  ann: (ctx, X, Y) => {
    hline(ctx, X(0), X(1), Y(285.5)); pval(ctx, J_PVALUES[0], X(0.5), Y(285.5) - 1);
    hline(ctx, X(1), X(2), Y(372)); pval(ctx, J_PVALUES[1], X(1.5), Y(372) - 1);
  }
});
addText('Tumor volume (mm<sup>3</sup>)', 1225, 1776, {size: 32, rot: true});
addText('PSC Ctrl sg', 1602, 1982, {size: 32, align: 'left'});
addText('PSC <i>Vhl</i> sg2', 1602, 2016, {size: 32, align: 'left'});
</script>
</body>
</html>
